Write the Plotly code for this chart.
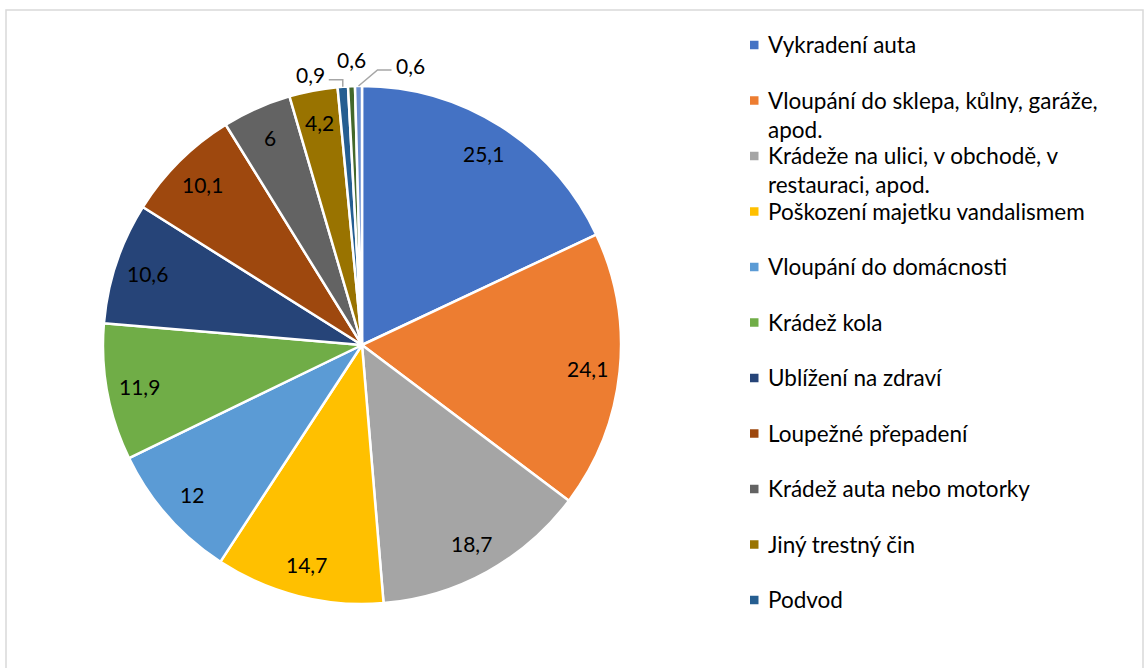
import math
import plotly.graph_objects as go

# ---- data ----
categories = [
    "Vykradení auta",
    "Vloupání do sklepa, kůlny, garáže, apod.",
    "Krádeže na ulici, v obchodě, v restauraci, apod.",
    "Poškození majetku vandalismem",
    "Vloupání do domácnosti",
    "Krádež kola",
    "Ublížení na zdraví",
    "Loupežné přepadení",
    "Krádež auta nebo motorky",
    "Jiný trestný čin",
    "Podvod",
    "Další kategorie (mimo legendu) 1",
    "Další kategorie (mimo legendu) 2",
]
values = [25.1, 24.1, 18.7, 14.7, 12, 11.9, 10.6, 10.1, 6, 4.2, 0.9, 0.6, 0.6]
value_labels = ["25,1", "24,1", "18,7", "14,7", "12", "11,9", "10,6", "10,1", "6", "4,2", "0,9", "0,6", "0,6"]
legend_count = 11  # entries visible in the (cropped) legend

# ---- styles ----
colors = ["#4472C4", "#ED7D31", "#A5A5A5", "#FFC000", "#5B9BD5", "#70AD47",
          "#264478", "#9E480E", "#636363", "#997300", "#255E91", "#43682B", "#698ED0"]
W, H = 1144, 668
CX, CY, R = 362, 345, 259          # pie centre / radius in px
FONT = "Lato"
LABEL_SIZE = 21
LEGEND_SIZE = 22.5
INSIDE_R = 0.875                    # inside-end label radius fraction
# outside labels for tiny slices: leader-line elbows relative to slice edge
outside = {
    10: dict(path=[(0, -7), (-14, -7)], anchor="right", tdy=-5),
    11: dict(path=[], anchor="center", tdy=-27),
    12: dict(path=[(19, -16), (33, -16)], anchor="left", tdy=-5),
}

def px(x, y):
    return x / W, 1 - y / H

fig = go.Figure()
fig.add_trace(go.Pie(
    labels=categories, values=values, sort=False, direction="clockwise", rotation=0,
    marker=dict(colors=colors, line=dict(color="white", width=2.5)),
    textinfo="none", hoverinfo="label+value", showlegend=False,
    domain=dict(x=[(CX - R) / W, (CX + R) / W], y=[1 - (CY + R) / H, 1 - (CY - R) / H]),
))

total = sum(values)
annotations = []
shapes = []
cum = 0.0
for i, (v, lab) in enumerate(zip(values, value_labels)):
    mid = (cum + v / 2) / total * 2 * math.pi
    cum += v
    s, c = math.sin(mid), math.cos(mid)
    if i not in outside:
        x, y = CX + INSIDE_R * R * s, CY - INSIDE_R * R * c
        ax, ay = px(x, y)
        annotations.append(dict(x=ax, y=ay, xref="paper", yref="paper", text=lab,
                                showarrow=False, font=dict(family=FONT, size=LABEL_SIZE, color="black"),
                                xanchor="center", yanchor="middle"))
    else:
        o = outside[i]
        x0, y0 = CX + R * s, CY - R * c
        pts = [(x0, y0)] + [(x0 + dx, y0 + dy) for dx, dy in o["path"]]
        if len(pts) > 1:
            d = "M " + " L ".join(f"{px(a, b)[0]},{px(a, b)[1]}" for a, b in pts)
            shapes.append(dict(type="path", path=d, xref="paper", yref="paper",
                               line=dict(color="#A6A6A6", width=1.5)))
        ex, ey = pts[-1]
        if o["anchor"] == "right":
            ex -= 2
        elif o["anchor"] == "left":
            ex += 2
        ax, ay = px(ex, ey + o["tdy"])
        annotations.append(dict(x=ax, y=ay, xref="paper", yref="paper", text=lab,
                                showarrow=False, font=dict(family=FONT, size=LABEL_SIZE, color="black"),
                                xanchor=o["anchor"], yanchor="middle"))

# ---- legend (Office-style fixed slots) ----
def wrap(t, n=34):
    words, lines, cur = t.split(" "), [], ""
    for w in words:
        if cur and len(cur) + 1 + len(w) > n:
            lines.append(cur)
            cur = w
        else:
            cur = (cur + " " + w) if cur else w
    lines.append(cur)
    return "<br>".join(lines)

LEG_X, LEG_Y0, LEG_STEP, SQ = 750, 45, 55.5, 8.5
for i in range(legend_count):
    yc = LEG_Y0 + i * LEG_STEP
    x0, y0 = px(LEG_X, yc - SQ / 2)
    x1, y1 = px(LEG_X + SQ, yc + SQ / 2)
    shapes.append(dict(type="rect", xref="paper", yref="paper", x0=x0, y0=y0, x1=x1, y1=y1,
                       fillcolor=colors[i], line=dict(width=0)))
    tx, ty = px(LEG_X + 16, yc - 16)
    annotations.append(dict(x=tx, y=ty, xref="paper", yref="paper", text=wrap(categories[i]),
                            showarrow=False, align="left", xanchor="left", yanchor="top",
                            font=dict(family=FONT, size=LEGEND_SIZE, color="black")))

# chart-area border
bx0, by0 = px(6, 10)
bx1, by1 = px(1143, 690)
shapes.append(dict(type="rect", xref="paper", yref="paper", x0=bx0, y0=by1, x1=bx1, y1=by0,
                   line=dict(color="#D9D9D9", width=1.5), fillcolor="rgba(0,0,0,0)", layer="below"))

fig.update_layout(
    width=W, height=H, margin=dict(l=0, r=0, t=0, b=0),
    paper_bgcolor="white", plot_bgcolor="white",
    annotations=annotations, shapes=shapes, showlegend=False,
    font=dict(family=FONT),
)
fig.write_html("out.html", config={"displayModeBar": False},
               post_script="document.body.style.margin='0';document.body.style.overflow='hidden';")
